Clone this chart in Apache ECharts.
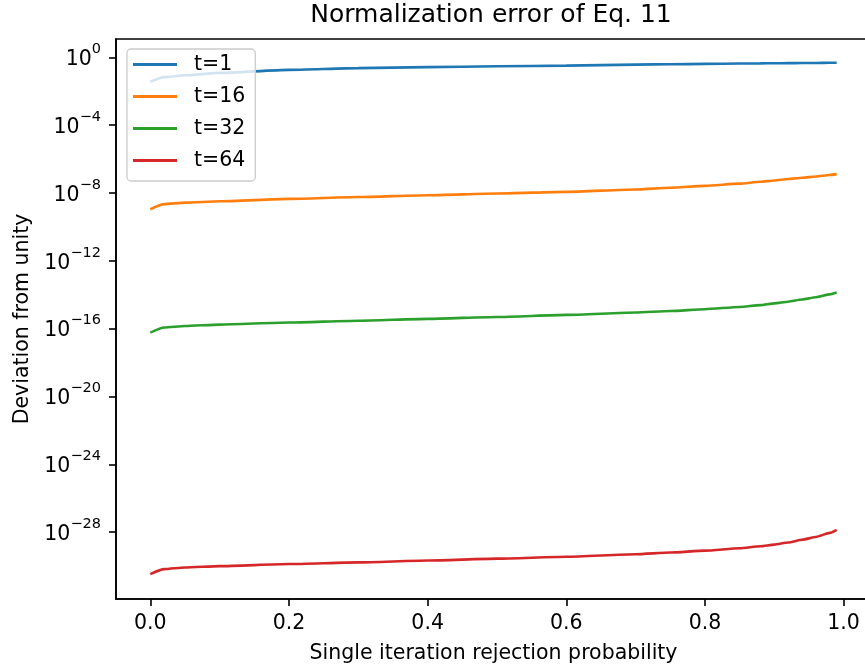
<!DOCTYPE html>
<html>
<head>
<meta charset="utf-8">
<script src="https://cdn.jsdelivr.net/npm/echarts@6/dist/echarts.min.js"></script>
<style>
  html, body { margin: 0; padding: 0; background: #ffffff; }
  #chart { width: 865px; height: 671px; }
</style>
</head>
<body>
<div id="chart"></div>
<script>
// Single-iteration rejection probability (x) shared by every curve
const rejectionProb = [0, 0.02, 0.05, 0.1, 0.2, 0.3, 0.4, 0.5, 0.6, 0.7, 0.75, 0.8, 0.85, 0.88, 0.9, 0.92, 0.94, 0.96, 0.98, 0.99];

// Deviation from unity for each number of iterations t
const devT1  = [3.63e-2, 6.76e-2, 8.71e-2, 1.20e-1, 1.82e-1, 2.29e-1, 2.63e-1, 2.95e-1, 3.24e-1, 3.72e-1, 3.89e-1, 4.07e-1, 4.27e-1, 4.37e-1, 4.47e-1, 4.52e-1, 4.57e-1, 4.62e-1, 4.73e-1, 4.79e-1];
const devT16 = [1.10e-9, 2.19e-9, 2.69e-9, 3.24e-9, 4.47e-9, 5.75e-9, 7.41e-9, 9.33e-9, 1.17e-8, 1.62e-8, 2.04e-8, 2.63e-8, 3.55e-8, 4.57e-8, 5.50e-8, 6.61e-8, 7.94e-8, 9.33e-8, 1.15e-7, 1.29e-7];
const devT32 = [5.89e-17, 1.17e-16, 1.45e-16, 1.74e-16, 2.29e-16, 2.95e-16, 3.80e-16, 4.90e-16, 6.46e-16, 8.91e-16, 1.10e-15, 1.41e-15, 1.91e-15, 2.45e-15, 3.09e-15, 3.89e-15, 5.25e-15, 7.08e-15, 1.05e-14, 1.35e-14];
const devT64 = [3.39e-31, 6.61e-31, 8.32e-31, 1.00e-30, 1.32e-30, 1.66e-30, 2.14e-30, 2.75e-30, 3.55e-30, 5.01e-30, 6.31e-30, 8.13e-30, 1.12e-29, 1.48e-29, 1.86e-29, 2.45e-29, 3.55e-29, 5.25e-29, 9.12e-29, 1.38e-28];

const seriesNames = ['t=1', 't=16', 't=32', 't=64'];
const seriesColors = ['#1f77b4', '#ff7f0e', '#2ca02c', '#d62728'];

// Tick positions
const xTicks = [0, 0.2, 0.4, 0.6, 0.8, 1.0];
const yTicks = [1, 1e-4, 1e-8, 1e-12, 1e-16, 1e-20, 1e-24, 1e-28];

const FONT = 'DejaVu Sans';
const allSeries = [devT1, devT16, devT32, devT64];

const chart = echarts.init(document.getElementById('chart'), null, { renderer: 'canvas' });

chart.setOption({
  animation: false,
  backgroundColor: '#ffffff',
  title: {
    text: 'Normalization error of Eq. 11',
    left: 491,
    textAlign: 'center',
    top: 3,
    padding: 0,
    textStyle: { fontFamily: FONT, fontSize: 25, fontWeight: 'normal', color: '#000000' }
  },
  grid: {
    left: 116,
    top: 39,
    right: -6,
    bottom: 72,
    outerBoundsMode: 'none',
    show: true,
    borderColor: '#000000',
    borderWidth: 1.6,
    backgroundColor: 'transparent'
  },
  legend: {
    orient: 'vertical',
    left: 127,
    top: 49,
    data: seriesNames.map(n => ({ name: n, icon: 'rect' })),
    itemWidth: 44,
    itemHeight: 3,
    itemGap: 11,
    padding: [5, 10, 10, 6],
    backgroundColor: 'rgba(255,255,255,0.8)',
    borderColor: '#cccccc',
    borderWidth: 1.3,
    borderRadius: 4,
    textStyle: { fontFamily: FONT, fontSize: 20.5, color: '#000000', lineHeight: 21, padding: [0, 0, 0, 12] }
  },
  xAxis: {
    type: 'value',
    min: -0.0495,
    max: 1.0395,
    name: 'Single iteration rejection probability',
    nameLocation: 'middle',
    nameGap: 44,
    nameTextStyle: { fontFamily: FONT, fontSize: 20.5, color: '#000000' },
    splitLine: { show: false },
    axisLine: { show: true, onZero: false, lineStyle: { color: '#000000', width: 1.6 } },
    axisTick: { show: true, length: 7, customValues: xTicks, lineStyle: { color: '#000000', width: 1.6 } },
    axisLabel: {
      customValues: xTicks,
      margin: 14,
      fontFamily: FONT,
      fontSize: 20.5,
      color: '#000000',
      formatter: v => v.toFixed(1)
    }
  },
  yAxis: {
    type: 'log',
    logBase: 10,
    min: 1.15e-32,
    max: 12.0,
    name: 'Deviation from unity',
    nameLocation: 'middle',
    nameGap: 82,
    nameTextStyle: { fontFamily: FONT, fontSize: 20.5, color: '#000000' },
    splitLine: { show: false },
    minorTick: { show: false },
    axisLine: { show: true, onZero: false, lineStyle: { color: '#000000', width: 1.6 } },
    axisTick: { show: true, length: 7, customValues: yTicks, lineStyle: { color: '#000000', width: 1.6 } },
    axisLabel: {
      customValues: yTicks,
      margin: 15,
      color: '#000000',
      formatter: v => {
        const e = Math.round(Math.log10(v));
        return '{b|10}{s|' + (e < 0 ? '\u2212' + (-e) : String(e)) + '}';
      },
      rich: {
        b: { fontFamily: FONT, fontSize: 20.5, color: '#000000', padding: [5, 0, 0, 0] },
        s: { fontFamily: FONT, fontSize: 14.5, color: '#000000', padding: [0, 0, 16, 0] }
      }
    }
  },
  series: allSeries.map((vals, i) => ({
    name: seriesNames[i],
    type: 'line',
    showSymbol: false,
    symbol: 'none',
    smooth: 0.2,
    smoothMonotone: 'x',
    color: seriesColors[i],
    lineStyle: { color: seriesColors[i], width: 2.6 },
    data: rejectionProb.map((x, j) => [x, vals[j]])
  }))
});
</script>
</body>
</html>
